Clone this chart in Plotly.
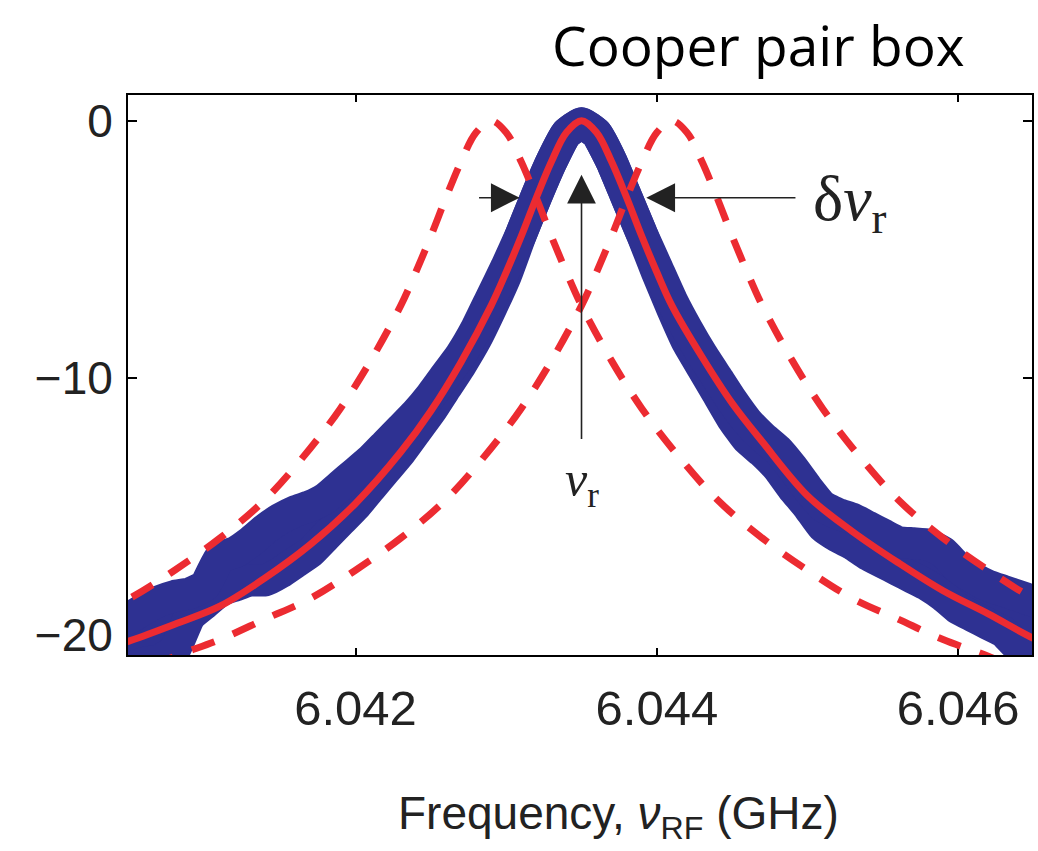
import plotly.graph_objects as go

# ---- measured data: the noisy blue trace, given as upper / lower extent of the points ----
freq_data = [6.0404, 6.0405, 6.0406, 6.0407, 6.0408, 6.0409, 6.0410, 6.0411, 6.0412, 6.0413,
             6.0414, 6.0415, 6.0416, 6.0417, 6.0418, 6.0419, 6.0420, 6.0421, 6.0422, 6.0423,
             6.0424, 6.0425, 6.0426, 6.0427, 6.0428, 6.0429, 6.0430, 6.0431, 6.0432, 6.0433,
             6.0434, 6.0435, 6.0436, 6.0437, 6.0438, 6.0439, 6.0440, 6.0441, 6.0442, 6.0443,
             6.0444, 6.0445, 6.0446, 6.0447, 6.0448, 6.0449, 6.0450, 6.0451, 6.0452, 6.0453,
             6.0454, 6.0455, 6.0456, 6.0457, 6.0458, 6.0459, 6.0460, 6.0461, 6.0462, 6.0463,
             6.0464, 6.0465, 6.0466]
s21_data_hi = [-19.6, -19.35, -19.0, -18.7, -18.5, -18.4, -18.1, -17.0, -16.8, -16.4,
               -15.9, -15.5, -15.2, -15.0, -14.7, -14.2, -13.7, -13.2, -12.6, -12.0,
               -11.4, -10.7, -9.9, -9.1, -8.1, -6.9, -5.7, -4.4, -2.95, -1.6,
               -0.5, -0.1, -0.5, -1.6, -3.0, -4.4, -5.7, -7.0, -8.1, -9.1,
               -10.0, -10.9, -11.7, -12.3, -12.8, -13.5, -14.3, -15.0, -15.3, -15.5,
               -15.8, -16.1, -16.4, -16.45, -16.5, -16.8, -17.4, -17.8, -18.1, -18.3,
               -18.5, -18.7, -18.9]
s21_data_lo = [-21.4, -21.3, -21.1, -21.0, -20.6, -19.3, -18.8, -18.3, -18.1, -17.9,
               -17.9, -17.6, -17.2, -16.8, -16.2, -15.6, -15.0, -14.3, -13.6, -12.9,
               -12.1, -11.3, -10.4, -9.5, -8.5, -7.3, -6.0, -4.4, -2.95, -1.6,
               -0.5, -0.1, -0.5, -1.6, -3.0, -4.4, -5.9, -7.3, -8.6, -9.6,
               -10.6, -11.6, -12.4, -12.9, -13.5, -14.3, -15.0, -15.8, -16.2, -16.5,
               -16.9, -17.2, -17.5, -17.8, -18.1, -18.5, -19.0, -19.3, -19.6, -19.9,
               -20.5, -21.0, -21.2]

# ---- fit (solid red) ----
freq_fit = [6.0395, 6.0399, 6.0402, 6.0405, 6.0408, 6.0411, 6.0414, 6.0417, 6.0420, 6.0423,
            6.0425, 6.0427, 6.0429, 6.0430, 6.0431, 6.0432, 6.0433, 6.0434, 6.0435, 6.0436,
            6.0437, 6.0438, 6.0439, 6.0440, 6.0441, 6.0443, 6.0445, 6.0447, 6.0450, 6.0453,
            6.0456, 6.0459, 6.0462, 6.0465, 6.0468, 6.0471, 6.0475]
s21_fit = [-22.6, -21.5, -20.8, -20.25, -19.6, -18.9, -17.8, -16.5, -14.9, -12.9,
           -11.3, -9.4, -7.2, -5.9, -4.5, -3.0, -1.6, -0.46, 0.0, -0.46,
           -1.6, -3.0, -4.5, -5.9, -7.2, -9.2, -11.0, -12.5, -14.6, -16.0,
           -17.2, -18.3, -19.2, -20.15, -20.9, -21.6, -22.5]

# ---- shifted resonances (dashed red) ----
freq_lo = [6.0389, 6.0393, 6.0396, 6.0399, 6.0402, 6.0405, 6.0408, 6.0411, 6.0414, 6.0417,
           6.0419, 6.0421, 6.0423, 6.0424, 6.0425, 6.0426, 6.0427, 6.0428, 6.0429, 6.0430,
           6.0431, 6.0432, 6.0433, 6.0434, 6.0435, 6.0437, 6.0439, 6.0441, 6.0444, 6.0447,
           6.0450, 6.0453, 6.0456, 6.0459, 6.0462, 6.0465, 6.0469]
freq_hi = [6.0401, 6.0405, 6.0408, 6.0411, 6.0414, 6.0417, 6.0420, 6.0423, 6.0426, 6.0429,
           6.0431, 6.0433, 6.0435, 6.0436, 6.0437, 6.0438, 6.0439, 6.0440, 6.0441, 6.0442,
           6.0443, 6.0444, 6.0445, 6.0446, 6.0447, 6.0449, 6.0451, 6.0453, 6.0456, 6.0459,
           6.0462, 6.0465, 6.0468, 6.0471, 6.0474, 6.0477, 6.0481]
s21_shift = [-22.5, -21.6, -20.85, -20.2, -19.4, -18.6, -17.5, -16.25, -14.75, -12.75,
             -11.2, -9.35, -7.2, -5.9, -4.5, -3.0, -1.6, -0.46, 0.0, -0.46,
             -1.6, -3.0, -4.5, -5.9, -7.2, -9.35, -11.2, -12.75, -14.75, -16.25,
             -17.5, -18.6, -19.4, -20.2, -20.85, -21.6, -22.5]

# ---- axis ticks / annotation anchors ----
x_ticks = [6.042, 6.044, 6.046]
x_ticktext = ["6.042", "6.044", "6.046"]
y_ticks = [0, -10, -20]
y_ticktext = ["0", "\u221210", "\u221220"]
f_res = 6.0435
half_power = -3.0
width_left = [6.04281, 6.04309]    # tail, tip
width_right = [6.04493, 6.04393]   # tail, tip

BLUE = "#2E3192"
RED = "#EC2B31"

fig = go.Figure()
fig.add_trace(go.Scatter(x=freq_data, y=s21_data_lo, mode="lines",
                         line=dict(color=BLUE, width=32, shape="spline", smoothing=0.4),
                         hoverinfo="skip"))
fig.add_trace(go.Scatter(x=freq_data, y=s21_data_hi, mode="lines",
                         line=dict(color=BLUE, width=32, shape="spline", smoothing=0.4),
                         fill="tonexty", fillcolor=BLUE,
                         hoverinfo="skip"))
fig.add_trace(go.Scatter(x=freq_lo, y=s21_shift, mode="lines",
                         line=dict(color=RED, width=7, dash="24px,20px", shape="spline"),
                         hoverinfo="skip"))
fig.add_trace(go.Scatter(x=freq_hi, y=s21_shift, mode="lines",
                         line=dict(color=RED, width=7, dash="24px,20px", shape="spline"),
                         hoverinfo="skip"))
fig.add_trace(go.Scatter(x=freq_fit, y=s21_fit, mode="lines",
                         line=dict(color=RED, width=7, shape="spline"),
                         hoverinfo="skip"))

# arrows
arrow_common = dict(xref="x", yref="y", axref="x", ayref="y", text="", showarrow=True,
                    arrowhead=2, arrowsize=3.6, arrowwidth=1.6, arrowcolor="#222")
fig.add_annotation(x=f_res, y=-2.1, ax=f_res, ay=-12.45, **arrow_common)
fig.add_annotation(x=width_left[1], y=half_power, ax=width_left[0], ay=half_power, **arrow_common)
fig.add_annotation(x=width_right[1], y=half_power, ax=width_right[0], ay=half_power, **arrow_common)

fig.add_annotation(x=f_res, y=-14.1, xref="x", yref="y", showarrow=False,
                   xanchor="center", yanchor="middle",
                   text="<i>\u03bd</i><sub>r</sub>",
                   font=dict(family="Liberation Serif", size=50, color="#222"))
fig.add_annotation(x=6.04502, y=-3.2, xref="x", yref="y", showarrow=False,
                   xanchor="left", yanchor="middle",
                   text="\u03b4<i>\u03bd</i><sub>r</sub>",
                   font=dict(family="Liberation Serif", size=64, color="#222"))

# title
fig.add_annotation(x=(760 - 128) / 906, y=(655 - 44) / 560, xref="paper", yref="paper",
                   xanchor="center", yanchor="middle",
                   showarrow=False, text="Cooper pair box",
                   font=dict(family="Open Sans", size=55, color="black"))
# x-axis title
fig.add_annotation(x=(620 - 128) / 906, y=(655 - 816) / 560, xref="paper", yref="paper",
                   xanchor="center", yanchor="middle",
                   showarrow=False, text="Frequency, <i>\u03bd</i><sub>RF</sub> (GHz)",
                   font=dict(family="Liberation Sans", size=46, color="#222"))

fig.update_xaxes(range=[6.04049, 6.04649], tickvals=x_ticks, ticktext=x_ticktext,
                 ticks="inside", ticklen=7, tickwidth=2, tickcolor="black",
                 showline=True, linewidth=2, linecolor="black", mirror="ticks",
                 showgrid=False, zeroline=False, layer="below traces",
                 ticklabelstandoff=9,
                 tickfont=dict(family="Liberation Sans", size=49, color="#222"))
fig.update_yaxes(range=[-20.8, 1.0], tickvals=y_ticks, ticktext=y_ticktext,
                 ticks="inside", ticklen=9, tickwidth=2, tickcolor="black",
                 showline=True, linewidth=2, linecolor="black", mirror="ticks",
                 showgrid=False, zeroline=False, layer="below traces",
                 ticklabelstandoff=4,
                 tickfont=dict(family="Liberation Sans", size=46, color="#222"))

fig.update_layout(width=1038, height=851, margin=dict(l=128, r=4, t=95, b=196),
                  plot_bgcolor="white", paper_bgcolor="white", showlegend=False)

fig.write_html("out.html")
